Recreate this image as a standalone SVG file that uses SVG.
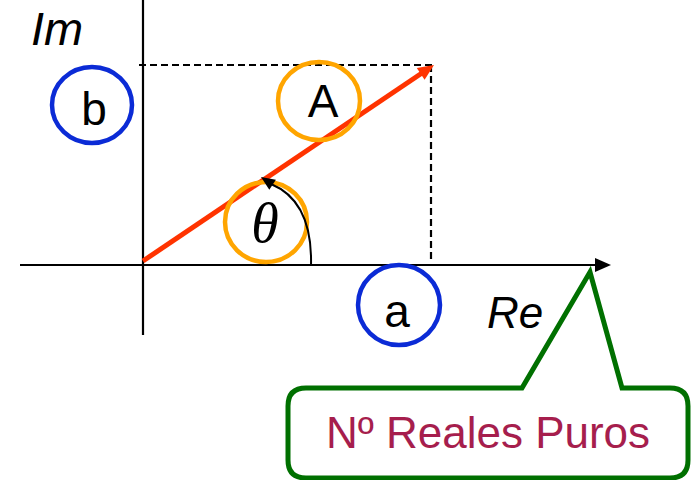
<svg xmlns="http://www.w3.org/2000/svg" width="693" height="480" viewBox="0 0 693 480">
<style>
.lbl{font-family:"Liberation Sans",Arial,sans-serif;fill:#000}
.it{font-style:italic}
.blue{fill:none;stroke:#0B2BD6;stroke-width:4.5}
.orange{fill:none;stroke:#FFA500;stroke-width:4.5}
.dash{stroke:#000;stroke-width:2.2;stroke-dasharray:7,4;fill:none}
</style>
<rect width="693" height="480" fill="#fff"/>
<g id="connectors">
  <line x1="143" y1="0" x2="143" y2="335" stroke="#000" stroke-width="2.2"/>
  <line x1="20" y1="265" x2="597" y2="265" stroke="#000" stroke-width="2"/>
  <polygon points="611,265 595,258 595,272" fill="#000"/>
  <line class="dash" x1="139" y1="65" x2="432" y2="65"/>
  <line class="dash" x1="431" y1="65" x2="431" y2="263"/>
  <line x1="143" y1="261" x2="422" y2="73" stroke="#FF3300" stroke-width="5"/>
  <polygon points="434,65 416.8,68.1 424.6,79.7" fill="#FF3300"/>
</g>
<g id="node-b"><ellipse class="blue" cx="92" cy="105" rx="40" ry="38"/><text class="lbl" x="94" y="125" font-size="46" text-anchor="middle">b</text></g>
<g id="node-A"><ellipse class="orange" cx="319" cy="101" rx="41" ry="39"/><text class="lbl" x="323" y="117" font-size="46" text-anchor="middle">A</text></g>
<g id="node-theta"><ellipse class="orange" cx="266" cy="222" rx="41" ry="40"/><text x="265" y="242" font-size="56" text-anchor="middle" font-family="'Liberation Serif','Times New Roman',serif" font-style="italic">θ</text></g>
<g id="node-a"><ellipse class="blue" cx="399" cy="305" rx="41" ry="40"/><text class="lbl" x="397" y="327" font-size="46" text-anchor="middle">a</text></g>
<g id="angle-arc">
  <path d="M311,265 C312,225 300,196 271,184" fill="none" stroke="#000" stroke-width="2"/>
  <polygon points="261,177 275.9,179.7 269.3,189.7" fill="#000"/>
</g>
<g id="label-Im"><text class="lbl it" x="31" y="45" font-size="47">Im</text></g>
<g id="label-Re"><text class="lbl it" x="487" y="328" font-size="44">Re</text></g>
<g id="callout">
  <path d="M306,388 H522 L590,272 L622,388 H670 Q688,388 688,406 V460 Q688,478 670,478 H306 Q288,478 288,460 V406 Q288,388 306,388 Z" fill="#fff" stroke="#007000" stroke-width="5" stroke-linejoin="miter"/>
  <text x="488" y="448" font-size="44" text-anchor="middle" font-family="'Liberation Sans',Arial,sans-serif" fill="#A61E4D">Nº Reales Puros</text>
</g>
</svg>
